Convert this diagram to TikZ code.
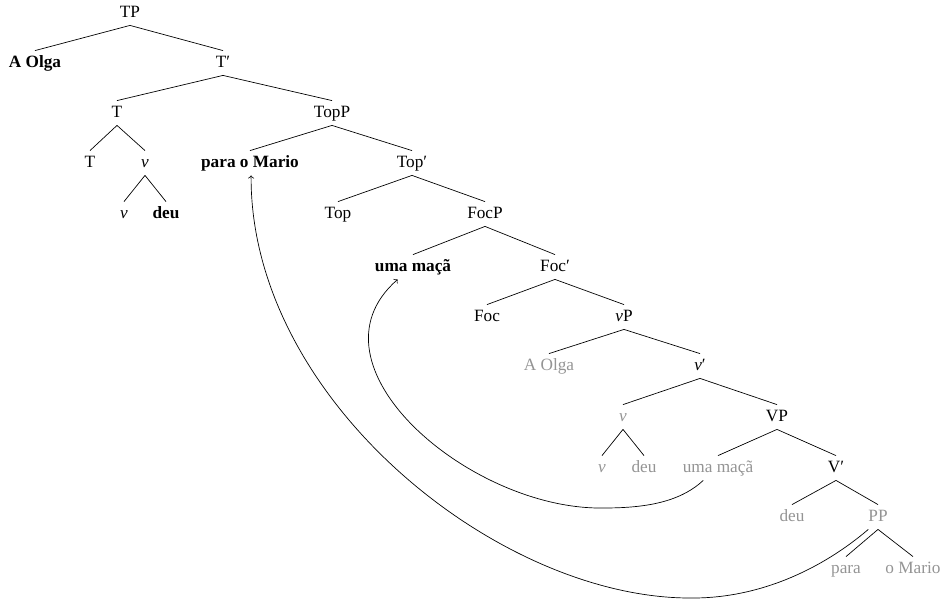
\documentclass[tikz,border=0pt]{standalone}
\usepackage{fontspec}
\setmainfont{Liberation Serif}
\usepackage{tikz}
\definecolor{copygray}{gray}{0.58}

\begin{document}
\begin{tikzpicture}[x=0.58pt, y=-0.58pt,
  lbl/.style={inner xsep=2pt, inner ysep=2.5pt, text height=7pt, text depth=2pt},
  moved/.style={lbl, font=\bfseries},
  copy/.style={lbl, text=copygray}]
\useasboundingbox (0,0) rectangle (947,600);

\node[lbl] (TP) at (130,13) {TP};
\node[moved] (AOlga) at (35,63) {A Olga};
\node[lbl] (Tbar) at (223,63) {T′};
\node[lbl] (T) at (117,113) {T};
\node[lbl] (TopP) at (332,113) {TopP};
\node[lbl] (Thd) at (90,163) {T};
\node[lbl] (v) at (145,163) {\textit{v}};
\node[moved] (ParaMario) at (250,163) {para o Mario};
\node[lbl] (Topbar) at (412,163) {Top′};
\node[lbl] (vhd) at (124,214) {\textit{v}};
\node[moved] (deu) at (166,214) {deu};
\node[lbl] (Top) at (338,214) {Top};
\node[lbl] (FocP) at (485,214) {FocP};
\node[moved] (UmaMaca) at (413,267) {uma maçã};
\node[lbl] (Focbar) at (555,267) {Foc′};
\node[lbl] (Foc) at (487,317) {Foc};
\node[lbl] (vP) at (624,317) {\textit{v}P};
\node[copy] (AOlgaC) at (549,366) {A Olga};
\node[lbl] (vbar) at (700,366) {\textit{v}′};
\node[copy] (vC) at (623,417) {\textit{v}};
\node[lbl] (VP) at (777,417) {VP};
\node[copy] (vhdC) at (602,468) {\textit{v}};
\node[copy] (deuC) at (644,468) {deu};
\node[copy] (UmaMacaC) at (718,468) {uma maçã};
\node[lbl] (Vbar) at (836,468) {V′};
\node[copy] (deuV) at (792,517) {deu};
\node[copy] (PP) at (878,517) {PP};
\node[copy] (para) at (846,569) {para};
\node[copy] (oMario) at (913,569) {o Mario};

\draw (TP.south) -- (AOlga.north) (TP.south) -- (Tbar.north);
\draw (Tbar.south) -- (T.north) (Tbar.south) -- (TopP.north);
\draw (T.south) -- (Thd.north) (T.south) -- (v.north);
\draw (v.south) -- (vhd.north) (v.south) -- (deu.north);
\draw (TopP.south) -- (ParaMario.north) (TopP.south) -- (Topbar.north);
\draw (Topbar.south) -- (Top.north) (Topbar.south) -- (FocP.north);
\draw (FocP.south) -- (UmaMaca.north) (FocP.south) -- (Focbar.north);
\draw (Focbar.south) -- (Foc.north) (Focbar.south) -- (vP.north);
\draw (vP.south) -- (AOlgaC.north) (vP.south) -- (vbar.north);
\draw (vbar.south) -- (vC.north) (vbar.south) -- (VP.north);
\draw (vC.south) -- (vhdC.north) (vC.south) -- (deuC.north);
\draw (VP.south) -- (UmaMacaC.north) (VP.south) -- (Vbar.north);
\draw (Vbar.south) -- (deuV.north) (Vbar.south) -- (PP.north);
\draw (PP.south) -- (para.north) (PP.south) -- (oMario.north);

\draw[->] (UmaMacaC.220) .. controls (678,504) and (640,508) .. (603,508)
  .. controls (470,510) and (300,365) .. (UmaMaca.219);
\draw[->] (PP.232) .. controls (822,569) and (760,598) .. (693,598)
  .. controls (500,600) and (250,400) .. (ParaMario.275);
\end{tikzpicture}
\end{document}
